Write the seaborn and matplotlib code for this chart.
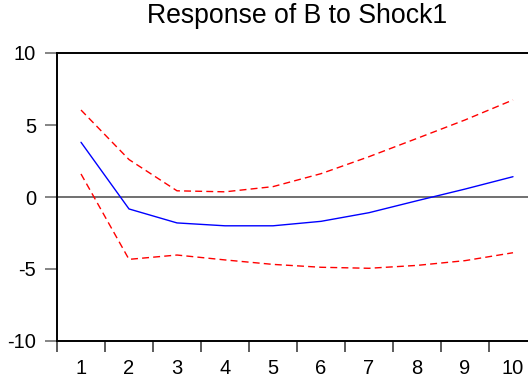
import matplotlib
matplotlib.use("Agg")
import matplotlib.pyplot as plt
import seaborn as sns
import pandas as pd
import numpy as np
from matplotlib.ticker import FixedLocator

periods = [1, 2, 3, 4, 5, 6, 7, 8, 9, 10]
response = [3.8, -0.83, -1.8, -2.0, -2.0, -1.69, -1.09, -0.26, 0.55, 1.41]
upper_band = [6.04, 2.6, 0.43, 0.36, 0.72, 1.62, 2.8, 4.07, 5.35, 6.74]
lower_band = [1.6, -4.33, -4.03, -4.37, -4.68, -4.88, -4.95, -4.75, -4.42, -3.87]
y_ticks = [-10, -5, 0, 5, 10]
title = "Response of B to Shock1"

sns.set_theme(style="white")
plt.rcParams['font.family'] = ['Liberation Sans', 'DejaVu Sans']

fig = plt.figure(figsize=(5.28, 3.77), dpi=100)
ax = fig.add_axes([57/528, 36/377, 480/528, 288/377])

df = pd.DataFrame({"period": periods, "response": response,
                   "upper": upper_band, "lower": lower_band})

ax.axhline(0, color="#707070", lw=1.4, zorder=1)
sns.lineplot(data=df, x="period", y="upper", ax=ax, color="#ff0000", lw=1.0, zorder=3)
ax.lines[-1].set_dashes([5, 3])
sns.lineplot(data=df, x="period", y="lower", ax=ax, color="#ff0000", lw=1.0, zorder=3)
ax.lines[-1].set_dashes([5, 3])
sns.lineplot(data=df, x="period", y="response", ax=ax, color="#0000ff", lw=1.0, zorder=4)

ax.set_xlim(0.5, 10.5)
ax.set_ylim(-10, 10)
ax.set_xlabel("")
ax.set_ylabel("")

ax.xaxis.set_major_locator(FixedLocator(periods))
ax.set_xticklabels([str(p) for p in periods])
ax.xaxis.set_minor_locator(FixedLocator([p + 0.5 for p in [0] + periods]))
ax.tick_params(axis="x", which="major", length=0, pad=13, labelsize=14.5, labelcolor="black")
ax.tick_params(axis="x", which="minor", bottom=True, length=8, width=1.2, color="#404040", direction="out")
ax.set_yticks(y_ticks)
ax.set_yticklabels([str(v) for v in y_ticks])
ax.tick_params(axis="y", which="major", left=True, length=9, width=1.2, color="#707070",
               direction="out", pad=6, labelsize=14.5, labelcolor="black")

for side in ["left", "bottom", "top", "right"]:
    ax.spines[side].set_color("black")
    ax.spines[side].set_linewidth(1.4)

fig.text((57 + 240) / 528, 1 - 22.7 / 377, title, ha="center", va="baseline",
         fontsize=19.2, color="black")

fig.savefig("out.png", dpi=100)
